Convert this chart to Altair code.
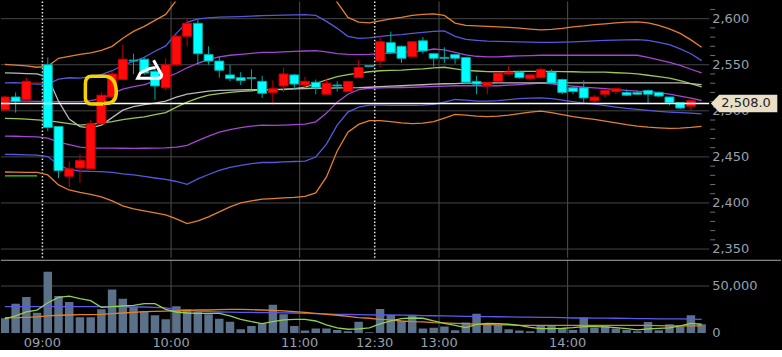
import altair as alt
import pandas as pd

# ---------------- data ----------------
bars = list(range(66))
opens = [2501, 2515, 2512, 2530, 2550, 2483, 2429, 2438, 2437, 2486,
         2515, 2534, 2555, 2556, 2543, 2525, 2550, 2581, 2595, 2561,
         2554, 2539, 2536, 2536, 2532, 2520, 2527, 2539, 2528, 2531,
         2518, 2528, 2521, 2536, 2549, 2554, 2574, 2570, 2559, 2576,
         2562, 2558, 2561, 2558, 2532, 2527, 2532, 2540, 2542, 2535,
         2536, 2542, 2534, 2525, 2525, 2511, 2518, 2521, 2520, 2520,
         2522, 2520, 2515, 2509, 2505, 2508]
highs = [2516, 2520, 2536, 2530, 2558, 2483, 2445, 2453, 2490, 2520,
         2543, 2572, 2562, 2558, 2546, 2557, 2582, 2600, 2599, 2570,
         2559, 2550, 2542, 2545, 2538, 2533, 2547, 2540, 2537, 2534,
         2535, 2532, 2532, 2555, 2549, 2581, 2586, 2571, 2576, 2580,
         2563, 2569, 2562, 2558, 2538, 2531, 2542, 2549, 2543, 2540,
         2547, 2545, 2535, 2527, 2533, 2517, 2523, 2525, 2523, 2522,
         2523, 2521, 2515, 2509, 2512, 2508]
lows = [2500, 2498, 2509, 2530, 2478, 2427, 2417, 2422, 2437, 2486,
        2513, 2534, 2540, 2539, 2512, 2522, 2549, 2570, 2550, 2550,
        2536, 2532, 2528, 2523, 2514, 2507, 2520, 2524, 2525, 2518,
        2518, 2521, 2521, 2536, 2548, 2547, 2562, 2552, 2558, 2562,
        2548, 2552, 2551, 2531, 2518, 2518, 2531, 2539, 2535, 2533,
        2536, 2530, 2518, 2518, 2509, 2509, 2514, 2518, 2516, 2517,
        2508, 2515, 2506, 2502, 2501, 2508]
closes = [2515, 2510, 2532, 2530, 2482, 2435, 2437, 2446, 2486, 2517,
          2540, 2556, 2554, 2541, 2527, 2550, 2581, 2595, 2562, 2554,
          2544, 2535, 2533, 2535, 2519, 2524, 2540, 2529, 2532, 2525,
          2530, 2527, 2532, 2547, 2548, 2575, 2563, 2557, 2575, 2565,
          2557, 2557, 2557, 2531, 2529, 2531, 2541, 2542, 2536, 2539,
          2545, 2530, 2520, 2521, 2514, 2515, 2522, 2524, 2517, 2518,
          2518, 2516, 2509, 2503, 2511, 2508]
volumes = [15500, 31200, 38300, 21600, 65200, 39400, 33000, 16600, 16600, 25100,
           46400, 36500, 28000, 23400, 18700, 14500, 28300, 25100, 22300, 19800,
           15200, 12000, 3800, 7400, 10200, 30100, 19800, 7400, 2500, 4600,
           4600, 3200, 1700, 12000, 800, 25500, 19100, 12800, 18100, 4600,
           5600, 6700, 2800, 11000, 20500, 8500, 8500, 3800, 2500, 1700,
           8500, 8500, 5600, 3200, 16300, 5600, 7400, 4600, 3200, 1700,
           11700, 2800, 9200, 6700, 18700, 9200]

bb_mid = [2491.7, 2491.5, 2491.0, 2490.1, 2489.4, 2487.7, 2486.1, 2484.5, 2485.6, 2486.7,
          2488.3, 2490.4, 2492.1, 2493.5, 2495.9, 2498.0, 2504.0, 2509.4, 2513.7, 2517.0,
          2518.6, 2520.0, 2521.1, 2521.8, 2522.9, 2522.9, 2523.1, 2524.0, 2525.6, 2529.4,
          2533.7, 2537.0, 2539.2, 2540.8, 2542.4, 2543.5, 2544.0, 2544.2, 2544.9, 2545.6,
          2546.7, 2547.3, 2545.6, 2544.0, 2543.2, 2542.6, 2542.4, 2542.6, 2542.9, 2542.9,
          2542.9, 2542.9, 2542.6, 2542.4, 2542.1, 2542.1, 2541.9, 2541.3, 2540.8, 2540.0,
          2538.6, 2537.0, 2535.4, 2532.7, 2529.4, 2526.0]
bb_up1 = [2511.0, 2510.8, 2510.5, 2510.2, 2509.9, 2509.9, 2509.9, 2509.9, 2511.0, 2513.2,
          2518.6, 2523.5, 2526.2, 2528.5, 2532.1, 2535.9, 2540.8, 2546.7, 2551.6, 2555.9,
          2558.6, 2560.3, 2561.3, 2562.4, 2563.5, 2563.5, 2564.0, 2564.6, 2564.9, 2565.3,
          2564.0, 2562.1, 2561.3, 2561.0, 2561.3, 2562.1, 2562.7, 2563.5, 2564.0, 2565.1,
          2567.1, 2566.2, 2563.5, 2560.8, 2559.2, 2558.6, 2558.6, 2559.2, 2559.7, 2559.9,
          2560.3, 2560.3, 2560.3, 2560.3, 2560.3, 2560.3, 2560.3, 2560.3, 2560.3, 2560.3,
          2558.1, 2555.4, 2552.7, 2549.4, 2545.1, 2541.1]
bb_dn1 = [2472.6, 2472.4, 2472.1, 2471.8, 2470.4, 2466.1, 2463.4, 2460.7, 2459.6, 2459.6,
          2459.6, 2459.4, 2459.3, 2459.4, 2459.6, 2459.8, 2460.7, 2462.5, 2467.7, 2472.6,
          2476.9, 2479.6, 2481.8, 2483.4, 2484.5, 2484.2, 2484.5, 2485.0, 2485.6, 2488.1,
          2497.5, 2509.4, 2518.0, 2523.1, 2524.5, 2524.9, 2525.1, 2525.3, 2525.6, 2526.0,
          2526.4, 2526.9, 2527.2, 2527.2, 2527.2, 2527.5, 2527.2, 2527.8, 2528.5, 2529.4,
          2530.0, 2529.2, 2527.8, 2526.7, 2525.6, 2524.9, 2524.0, 2522.9, 2522.1, 2521.3,
          2520.8, 2519.7, 2518.0, 2515.9, 2513.7, 2511.2]
bb_up2 = [2530.3, 2530.5, 2529.7, 2528.9, 2528.9, 2534.3, 2535.9, 2535.4, 2537.0, 2539.4,
          2543.5, 2549.4, 2553.8, 2558.1, 2564.6, 2570.5, 2584.1, 2596.0, 2599.8, 2600.8,
          2601.6, 2601.9, 2602.3, 2602.8, 2603.2, 2603.6, 2603.9, 2604.2, 2604.3, 2603.5,
          2597.1, 2589.5, 2580.8, 2578.7, 2579.2, 2580.8, 2581.9, 2582.7, 2584.1, 2585.2,
          2586.2, 2586.8, 2580.8, 2577.6, 2576.5, 2575.6, 2575.4, 2575.1, 2574.8, 2574.5,
          2574.3, 2574.3, 2574.5, 2574.9, 2575.4, 2575.9, 2576.5, 2576.8, 2577.0, 2577.2,
          2576.5, 2574.3, 2571.8, 2567.3, 2561.9, 2554.5]
bb_dn2 = [2452.8, 2452.6, 2452.2, 2452.0, 2450.4, 2441.2, 2436.3, 2434.7, 2434.2, 2434.0,
          2433.1, 2431.5, 2430.4, 2428.8, 2427.1, 2425.5, 2423.3, 2420.3, 2426.1, 2430.9,
          2435.3, 2438.5, 2440.7, 2442.8, 2443.9, 2443.9, 2444.5, 2445.0, 2445.5, 2449.9,
          2463.9, 2484.5, 2498.6, 2504.0, 2506.1, 2506.1, 2505.9, 2505.8, 2505.8, 2506.1,
          2506.9, 2509.4, 2512.3, 2511.6, 2510.5, 2510.5, 2511.0, 2512.1, 2513.2, 2513.7,
          2514.0, 2513.2, 2511.6, 2509.9, 2508.3, 2507.2, 2505.6, 2504.0, 2502.6, 2501.5,
          2500.4, 2499.3, 2498.6, 2498.0, 2497.5, 2496.7]
bb_up3 = [2550.5, 2549.6, 2548.7, 2547.3, 2548.3, 2557.0, 2559.2, 2561.3, 2563.0, 2565.7,
          2570.0, 2578.7, 2586.2, 2591.6, 2598.1, 2604.6, 2620.0, 2641.1, 2646.8, 2649.0,
          2646.8, 2644.2, 2642.1, 2641.4, 2641.8, 2641.1, 2640.8, 2642.0, 2644.1, 2647.9,
          2639.3, 2617.6, 2601.4, 2596.3, 2595.4, 2597.6, 2599.8, 2601.4, 2603.5, 2604.6,
          2605.2, 2603.5, 2595.2, 2592.7, 2592.1, 2591.6, 2591.1, 2590.6, 2589.7, 2588.7,
          2587.9, 2588.4, 2589.5, 2591.1, 2592.1, 2593.5, 2594.4, 2595.4, 2596.2, 2596.5,
          2595.4, 2592.7, 2588.9, 2584.1, 2577.0, 2568.9]
bb_dn3 = [2433.6, 2433.4, 2433.3, 2433.1, 2430.4, 2419.6, 2414.1, 2411.4, 2409.3, 2406.6,
          2402.2, 2396.8, 2393.6, 2391.4, 2389.2, 2387.1, 2382.8, 2377.7, 2380.6, 2384.9,
          2390.3, 2395.7, 2400.1, 2402.2, 2404.1, 2404.7, 2405.5, 2406.0, 2407.1, 2410.9,
          2428.2, 2456.4, 2476.9, 2485.3, 2489.4, 2489.4, 2488.3, 2487.0, 2486.1, 2486.7,
          2488.3, 2492.1, 2496.1, 2495.3, 2494.2, 2493.7, 2494.2, 2495.3, 2496.9, 2498.6,
          2499.6, 2498.0, 2495.9, 2493.7, 2492.1, 2490.7, 2488.8, 2487.0, 2485.0, 2483.4,
          2482.3, 2481.6, 2480.9, 2481.3, 2482.0, 2483.1]
ma_short = [2541.1, 2540.8, 2540.4, 2540.0, 2536.4, 2510.5, 2491.0, 2482.9, 2481.6, 2484.5,
            2492.6, 2500.7, 2504.5, 2506.7, 2508.3, 2510.5, 2514.8, 2518.0, 2519.7, 2521.3,
            2522.2, 2522.4, 2522.7, 2522.9, 2523.1, 2523.1, 2523.5, 2523.8, 2524.2, 2524.5,
            2524.5, 2524.8, 2524.9, 2525.1, 2525.6, 2526.2, 2526.7, 2527.2, 2527.8, 2528.3,
            2528.9, 2529.4, 2529.6, 2530.0, 2530.0, 2530.2, 2530.3, 2530.3, 2530.3, 2530.3,
            2530.3, 2530.3, 2530.3, 2530.3, 2530.3, 2530.3, 2530.3, 2530.3, 2530.3, 2530.3,
            2530.3, 2530.3, 2530.3, 2530.3, 2529.4, 2528.5]
prev_bars = [0, 1, 2, 3]
prev_level = [2429.3, 2429.3, 2429.3, 2429.3]

vol_ma_short = [14900, 18100, 22300, 24400, 32200, 37900, 39300, 36500, 34300, 27300,
                28000, 28700, 29400, 31200, 31200, 25100, 22300, 21200, 20900, 20900,
                20900, 18100, 14500, 12000, 9900, 12000, 13800, 14500, 14500, 12700,
                8500, 5300, 3900, 4200, 5300, 9500, 12700, 15200, 15900, 15600,
                12700, 10200, 8100, 5600, 9200, 10200, 9900, 9200, 8100, 6000,
                4600, 4600, 4900, 5600, 6700, 6700, 6400, 5600, 4600, 3200,
                4200, 4900, 5300, 7400, 10200, 9200]
vol_ma_mid = [16300, 16300, 16600, 17000, 18100, 18800, 19100, 19500, 19500, 19800,
              20500, 21200, 21900, 22700, 23000, 23200, 23400, 24100, 24400, 24400,
              24800, 25100, 25100, 24800, 24400, 24100, 23400, 22700, 21900, 20900,
              19800, 18800, 17700, 16300, 15600, 14500, 13800, 12700, 12000, 11700,
              11000, 10600, 10200, 9900, 9200, 8800, 8500, 8500, 8100, 8100,
              8100, 8100, 8100, 8100, 8100, 8100, 8100, 8100, 8100, 8100,
              8100, 7800, 7400, 7400, 7400, 7400]
vol_ma_long = [28000, 28000, 28000, 28000, 28000, 28000, 28000, 28000, 28000, 28000,
               28000, 27600, 27600, 27600, 27300, 26600, 25100, 24100, 23000, 22700,
               22300, 22100, 21900, 21800, 21600, 21600, 21400, 21200, 20900, 20500,
               20200, 19800, 19600, 19500, 19300, 19100, 19100, 18900, 18800, 18400,
               18300, 18100, 17900, 17700, 17500, 17300, 17200, 17000, 16800, 16800,
               16600, 16500, 16300, 15900, 15900, 15800, 15800, 15600, 15400, 15200,
               15200, 15000, 14900, 14900, 14700, 14500]

current_price = [2508.0]
price_labels = [2350, 2400, 2450, 2500, 2550, 2600]
price_minor = [2360, 2370, 2380, 2390, 2410, 2420, 2430, 2440, 2460, 2470, 2480, 2490,
               2510, 2520, 2530, 2540, 2560, 2570, 2580, 2590, 2610]
volume_labels = [0, 50000]
session_bars = [4, 16, 28, 35, 41, 53]
session_labels = ["09:00", "10:00", "11:00", "12:30", "13:00", "14:00"]
session_open = [True, False, False, True, False, False]
note_ring = {"bar": [8.95], "price": [2522.4]}
note_scribble = {"bar": [13.5], "price": [2545.1]}

# ---------------- frames ----------------
df = pd.DataFrame({
    "bar": bars, "open": opens, "high": highs, "low": lows, "close": closes,
    "volume": volumes, "bb_mid": bb_mid, "bb_up1": bb_up1, "bb_dn1": bb_dn1,
    "bb_up2": bb_up2, "bb_dn2": bb_dn2, "bb_up3": bb_up3, "bb_dn3": bb_dn3,
    "ma_short": ma_short, "vma_s": vol_ma_short, "vma_m": vol_ma_mid, "vma_l": vol_ma_long,
})
df["dir"] = ["up" if c >= o else "down" for o, c in zip(opens, closes)]
prev_df = pd.DataFrame({"bar": prev_bars, "level": prev_level})
sess_df = pd.DataFrame({"bar": session_bars, "label": session_labels, "open": session_open})
sess_df["pos"] = sess_df["bar"] - 0.5
hgrid_df = pd.DataFrame({"v": price_labels})
minor_df = pd.DataFrame({"v": price_minor})
vlab_df = pd.DataFrame({"v": volume_labels})
cur_df = pd.DataFrame({"price": current_price})
ring_df = pd.DataFrame(note_ring)
scrib_df = pd.DataFrame(note_scribble)
one_df = pd.DataFrame({"v": [0]})
volgrid_df = pd.DataFrame({"v": [volume_labels[1]]})

W, H_PRICE, H_VOL = 710, 257, 74
FONT = "DejaVu Sans"
LABEL_COLOR = "#98a2ad"

xscale = alt.Scale(domain=[0.1, 65.24], nice=False, zero=False)
yscale = alt.Scale(domain=[2340.5, 2618.7], nice=False, zero=False)
vscale = alt.Scale(domain=[-745, 77977], nice=False, zero=False)

X = alt.X("bar:Q", scale=xscale, axis=None)
XPOS = alt.X("pos:Q", scale=xscale, axis=None)

# ---------------- price panel ----------------
hgrid = alt.Chart(hgrid_df).mark_rule(color="#464646", strokeWidth=1).encode(
    y=alt.Y("v:Q", scale=yscale, axis=None))
price_text = alt.Chart(hgrid_df).transform_calculate(txt="format(datum.v, ',')").mark_text(
    align="left", baseline="middle", font=FONT, fontSize=13, color=LABEL_COLOR).encode(
    x=alt.value(W + 3), y=alt.Y("v:Q", scale=yscale, axis=None), text="txt:N")
minor_ticks = alt.Chart(minor_df).mark_rule(color="#6e6e6e", strokeWidth=1).encode(
    x=alt.value(W + 1), x2=alt.value(W + 6), y=alt.Y("v:Q", scale=yscale, axis=None))
vgrid_solid = alt.Chart(sess_df).transform_filter("!datum.open").mark_rule(
    color="#4e4e4e", strokeWidth=1).encode(x=XPOS)
vgrid_dot = alt.Chart(sess_df).transform_filter("datum.open").mark_rule(
    color="#e8e8e8", strokeWidth=1.5, strokeDash=[1.5, 2]).encode(x=XPOS)

line_specs = [
    ("bb_up3", "#e2812c"), ("bb_dn3", "#e2812c"),
    ("bb_up2", "#5757dc"), ("bb_dn2", "#5757dc"),
    ("bb_up1", "#a346d2"), ("bb_dn1", "#a346d2"),
    ("bb_mid", "#9cc852"), ("ma_short", "#b9b9b9"),
]
price_lines = [
    alt.Chart(df).mark_line(color=c, strokeWidth=1.3, clip=True).encode(
        x=X, y=alt.Y(f"{col}:Q", scale=yscale, axis=None))
    for col, c in line_specs
]
prev_line = alt.Chart(prev_df).mark_line(color="#33dd33", strokeWidth=1.3, clip=True).encode(
    x=X, y=alt.Y("level:Q", scale=yscale, axis=None))

dir_fill = alt.Scale(domain=["up", "down"], range=["#ff0a0a", "#00ffff"])
dir_dark = alt.Scale(domain=["up", "down"], range=["#c80000", "#00a9a9"])
wicks = alt.Chart(df).mark_rule(strokeWidth=1, clip=True).encode(
    x=X, y=alt.Y("low:Q", scale=yscale, axis=None), y2="high:Q",
    color=alt.Color("dir:N", scale=dir_dark, legend=None))
bodies = alt.Chart(df).mark_bar(size=9, strokeWidth=1, clip=True).encode(
    x=X, y=alt.Y("open:Q", scale=yscale, axis=None), y2="close:Q",
    fill=alt.Fill("dir:N", scale=dir_fill, legend=None),
    stroke=alt.Stroke("dir:N", scale=dir_dark, legend=None))

cur_line = alt.Chart(cur_df).mark_rule(color="#ffffff", strokeWidth=1.5).encode(
    y=alt.Y("price:Q", scale=yscale, axis=None))

ring_path = ("M 0.2 0.85 Q 0.95 0.9 1 0.2 Q 1 -0.85 0.3 -0.9 L -0.6 -0.9 "
             "Q -1 -0.9 -1 -0.4 L -1 0.5 Q -1 0.9 -0.5 0.9 L 0.15 0.9")
ring = alt.Chart(ring_df).mark_point(shape=ring_path, size=961, filled=False,
                                     stroke="#f2d200", strokeWidth=3.5, opacity=1).encode(
    x=X, y=alt.Y("price:Q", scale=yscale, axis=None))
scrib_path = ("M 0.33 -0.75 L 1 0.45 Q 1 0.75 0.7 0.75 L -1 0.75 "
              "L -0.8 0.35 Q -0.3 -0.05 0.5 -0.15")
scribble = alt.Chart(scrib_df).mark_point(shape=scrib_path, size=576, filled=False,
                                          stroke="#ffffff", strokeWidth=3, opacity=1).encode(
    x=X, y=alt.Y("price:Q", scale=yscale, axis=None))

tag_path = "M -1 0 L -0.75 -0.265 L 1 -0.265 L 1 0.265 L -0.75 0.265 Z"
tag = alt.Chart(cur_df).mark_point(shape=tag_path, size=4436, filled=True,
                                   color="#e9dec6", opacity=1, strokeWidth=0).encode(
    x=alt.value(745), y=alt.Y("price:Q", scale=yscale, axis=None))
tag_text = alt.Chart(cur_df).transform_calculate(
    txt="format(datum.price, ',.1f')").mark_text(
    font=FONT, fontSize=13, color="#1c1c1c", align="center", baseline="middle").encode(
    x=alt.value(747), y=alt.Y("price:Q", scale=yscale, axis=None), text="txt:N")

price_chart = alt.layer(
    hgrid, minor_ticks, price_text, vgrid_solid, vgrid_dot, prev_line, *price_lines,
    wicks, bodies, cur_line, ring, scribble, tag, tag_text,
).properties(width=W, height=H_PRICE)

# ---------------- volume panel ----------------
vgrid_vol = alt.Chart(sess_df).transform_filter("!datum.open").mark_rule(
    color="#4e4e4e", strokeWidth=1).encode(x=XPOS)
vol_grid = alt.Chart(volgrid_df).mark_rule(color="#464646", strokeWidth=1).encode(
    y=alt.Y("v:Q", scale=vscale, axis=None))
vol_text = alt.Chart(vlab_df).transform_calculate(txt="format(datum.v, ',')").mark_text(
    align="left", baseline="middle", font=FONT, fontSize=13, color=LABEL_COLOR).encode(
    x=alt.value(W + 3), y=alt.Y("v:Q", scale=vscale, axis=None), text="txt:N")
time_text = alt.Chart(sess_df).mark_text(
    align="center", baseline="top", font=FONT, fontSize=13, color=LABEL_COLOR).encode(
    x=XPOS, y=alt.value(H_VOL + 3), text="label:N")
separator = alt.Chart(one_df).mark_rule(color="#a8a8a8", strokeWidth=1).encode(
    x=alt.value(0), x2=alt.value(782), y=alt.value(0.5))
vol_bars = alt.Chart(df).mark_bar(size=8.5, color="#5b7089", clip=True).encode(
    x=X, y=alt.Y("volume:Q", scale=vscale, axis=None), y2=alt.datum(0))
vol_lines = [
    alt.Chart(df).mark_line(color=c, strokeWidth=1.3, clip=True).encode(
        x=X, y=alt.Y(f"{col}:Q", scale=vscale, axis=None))
    for col, c in [("vma_l", "#5a5aee"), ("vma_m", "#e2812c"), ("vma_s", "#8fd150")]
]
vol_chart = alt.layer(vgrid_vol, vol_grid, vol_text, time_text, vol_bars, *vol_lines,
                      separator).properties(width=W, height=H_VOL)

chart = alt.vconcat(price_chart, vol_chart, spacing=0, padding=0,
                    background="#000000").configure_view(stroke=None)

chart.save("out.html", embed_options={"renderer": "svg", "actions": False})
